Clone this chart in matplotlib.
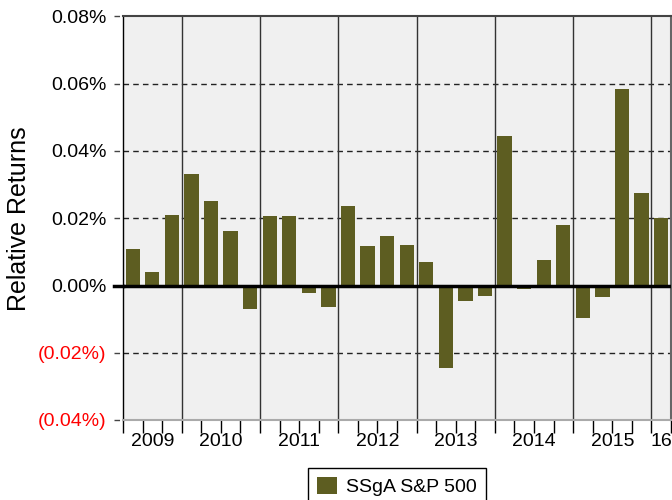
import numpy as np
import matplotlib
matplotlib.use("Agg")
from matplotlib import pyplot as plt
from matplotlib.ticker import FixedLocator, FuncFormatter

plt.rcParams['font.family'] = ['Liberation Sans', 'DejaVu Sans']

# quarterly relative returns (%), Q2 2009 .. Q1 2016
quarters = ["2009Q2", "2009Q3", "2009Q4",
            "2010Q1", "2010Q2", "2010Q3", "2010Q4",
            "2011Q1", "2011Q2", "2011Q3", "2011Q4",
            "2012Q1", "2012Q2", "2012Q3", "2012Q4",
            "2013Q1", "2013Q2", "2013Q3", "2013Q4",
            "2014Q1", "2014Q2", "2014Q3", "2014Q4",
            "2015Q1", "2015Q2", "2015Q3", "2015Q4",
            "2016Q1"]
returns = [0.0110, 0.0041, 0.0210,
           0.0331, 0.0251, 0.0162, -0.0069,
           0.0207, 0.0208, -0.0022, -0.0065,
           0.0235, 0.0118, 0.0147, 0.0119,
           0.0070, -0.0244, -0.0046, -0.0030,
           0.0445, -0.0010, 0.0077, 0.0181,
           -0.0098, -0.0034, 0.0585, 0.0276,
           0.0202]
year_labels = ["2009", "2010", "2011", "2012", "2013", "2014", "2015", "16"]
y_ticks = [-0.04, -0.02, 0.0, 0.02, 0.04, 0.06, 0.08]
series_name = "SSgA S&P 500"

years = [q[:4] for q in quarters]
x = np.arange(len(quarters))

fig = plt.figure(figsize=(6.72, 5.0), dpi=100)
ax = fig.add_axes([0.183, 0.16, 0.8155, 0.807])
ax.set_facecolor('#f0f0f0')

ax.bar(x, returns, width=0.73, color='#5d5d21', label=series_name, zorder=3)

ax.set_xlim(-0.5, len(quarters) - 0.5)
ax.set_ylim(-0.04, 0.08)

# horizontal dashed grid
for v in y_ticks:
    if v == 0:
        ax.axhline(0, color='black', lw=2.5, zorder=4)
        ax.plot([-0.017, 0], [0, 0], color='black', lw=2.5,
                transform=ax.get_yaxis_transform(), clip_on=False)
    else:
        if -0.04 < v < 0.08:
            ax.axhline(v, color='#222222', lw=1, ls=(0, (4, 3)), zorder=2)
        ax.plot([-0.017, 0], [v, v], color='#444444', lw=1, ls=(0, (4, 3)),
                transform=ax.get_yaxis_transform(), clip_on=False)

# year separators
bounds = [i - 0.5 for i in range(1, len(years)) if years[i] != years[i - 1]]
for b in bounds:
    ax.axvline(b, color='#333333', lw=1, zorder=2)

# x ticks: quarter boundaries, labels at year centres
ax.xaxis.remove_overlapping_locs = False
ax.xaxis.set_major_locator(FixedLocator(np.arange(len(quarters) + 1) - 0.5))
ax.xaxis.set_major_formatter(FuncFormatter(lambda v, p: ""))
edges = [-0.5] + bounds + [len(quarters) - 0.5]
centers = [(edges[i] + edges[i + 1]) / 2 for i in range(len(edges) - 1)]
ax.set_xticks(centers, minor=True)
ax.set_xticklabels(year_labels, minor=True, fontsize=14)
ax.tick_params(axis='x', which='major', length=9, width=1, color='black')
ax.tick_params(axis='x', which='minor', length=0, pad=9)

def fmt(v, pos):
    if v < 0:
        return "({:.2f}%)".format(-v)
    return "{:.2f}%".format(v)

ax.set_yticks(y_ticks)
ax.yaxis.set_major_formatter(FuncFormatter(fmt))
ax.tick_params(axis='y', length=0, pad=12, labelsize=14)
for lbl, v in zip(ax.get_yticklabels(), y_ticks):
    lbl.set_color('red' if v < 0 else 'black')

ax.set_ylabel("Relative Returns", fontsize=18)
ax.yaxis.set_label_coords(-0.168, 0.5)

ax.spines['left'].set_color('black')
ax.spines['left'].set_linewidth(1)
ax.spines['top'].set_color('#444444')
ax.spines['top'].set_linewidth(1.5)
ax.spines['right'].set_color('#666666')
ax.spines['right'].set_linewidth(1.5)
ax.spines['bottom'].set_color('#aaaaaa')
ax.spines['bottom'].set_linewidth(1.5)

leg = fig.legend(loc='upper center', bbox_to_anchor=(0.5908, 0.064), fontsize=14,
                 frameon=True, fancybox=False, edgecolor='black', framealpha=1,
                 handlelength=1.0, handleheight=1.0, borderpad=0.45,
                 handletextpad=0.5, borderaxespad=0)
leg.get_frame().set_linewidth(1)

fig.savefig("out.png", dpi=100)
